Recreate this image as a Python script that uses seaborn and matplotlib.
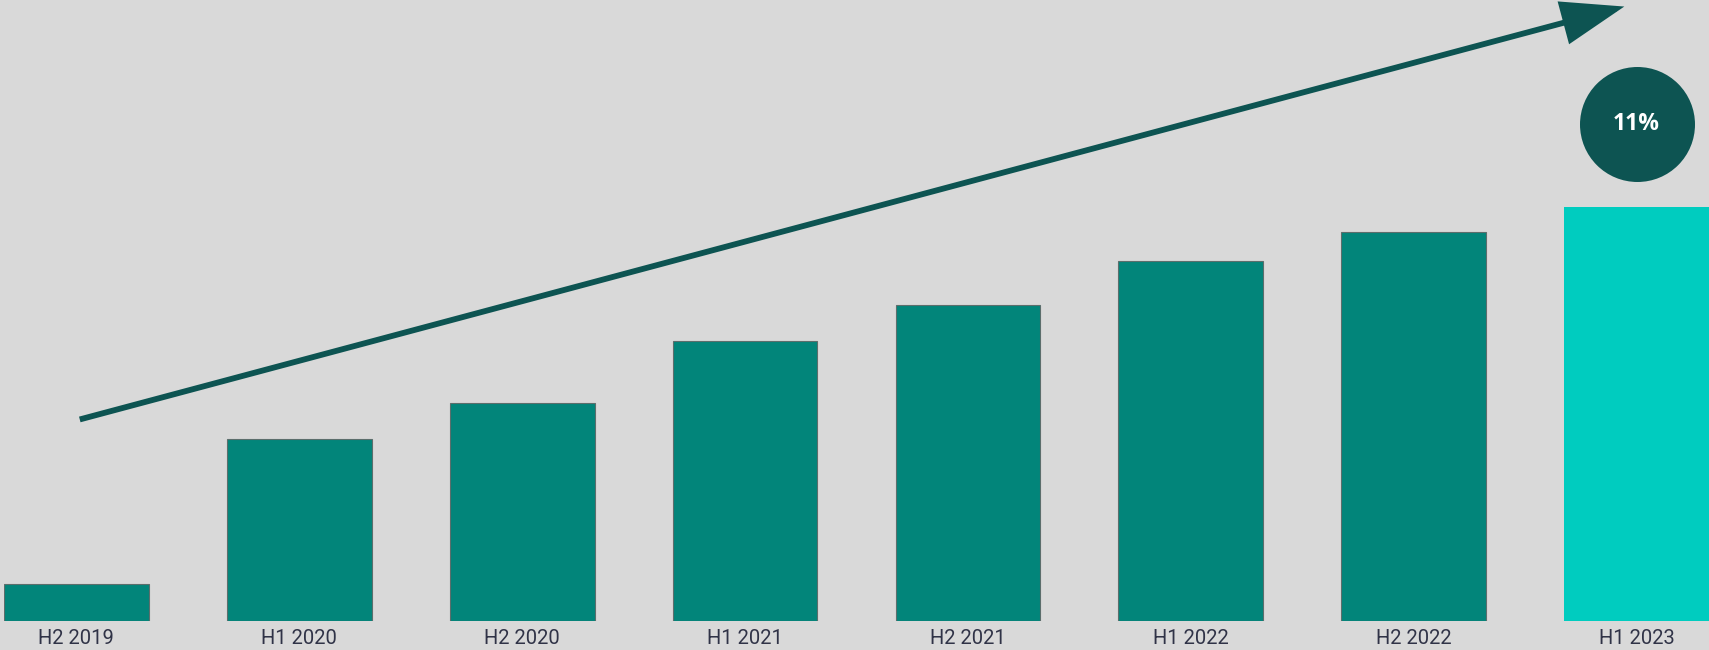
import numpy as np
import pandas as pd
import seaborn as sns
import matplotlib.pyplot as plt

periods = ["H2 2019", "H1 2020", "H2 2020", "H1 2021", "H2 2021", "H1 2022", "H2 2022", "H1 2023"]
values = [34, 167, 200, 257, 290, 330, 357, 380]
bar_colors = ["#02857a"] * 7 + ["#00ccbf"]
growth_label = "11%"

bg = "#d9d9d9"
dark = "#0d5452"

sns.set_theme(style="white")
plt.rcParams["font.family"] = ["Roboto", "DejaVu Sans"]

df = pd.DataFrame({"period": periods, "value": values})

fig = plt.figure(figsize=(17.09, 6.5), dpi=100, facecolor=bg)
ax = fig.add_axes([4 / 1709, 29 / 650, 1705 / 1709, 621 / 650])
ax.set_facecolor(bg)

sns.barplot(data=df, x="period", y="value", hue="period", palette=bar_colors,
            legend=False, width=0.65, ax=ax, saturation=1)
for i, p in enumerate(ax.patches):
    if i < 7:
        p.set_edgecolor("#5c6e6c")
        p.set_linewidth(0.8)
    else:
        p.set_linewidth(0)

ax.set_xlim(-0.325, len(periods) - 1 + 0.325)
ax.set_ylim(0, 570)
ax.set_xlabel("")
ax.set_ylabel("")
ax.set_yticks([])
ax.tick_params(axis="x", length=0, pad=6, labelsize=14.5, labelcolor="#303347")
for s in ax.spines.values():
    s.set_visible(False)

# trend arrow
ax.annotate("", xy=(6.945, 564), xytext=(0.015, 185),
            arrowprops=dict(arrowstyle="-|>,head_length=3.7,head_width=1.3",
                            mutation_scale=10, lw=4.2, color=dark,
                            shrinkA=0, shrinkB=0, capstyle="butt", joinstyle="miter"),
            annotation_clip=False)

# growth bubble
last = len(periods) - 1
ax.scatter([last], [456], s=6856, color=dark, zorder=5, linewidths=0, clip_on=False)
ax.text(last, 456, growth_label, ha="center", va="center", color="white",
        fontsize=16.5, fontweight="bold", family=["Open Sans", "DejaVu Sans"], zorder=6)

fig.savefig("out.png", dpi=100, facecolor=bg)
